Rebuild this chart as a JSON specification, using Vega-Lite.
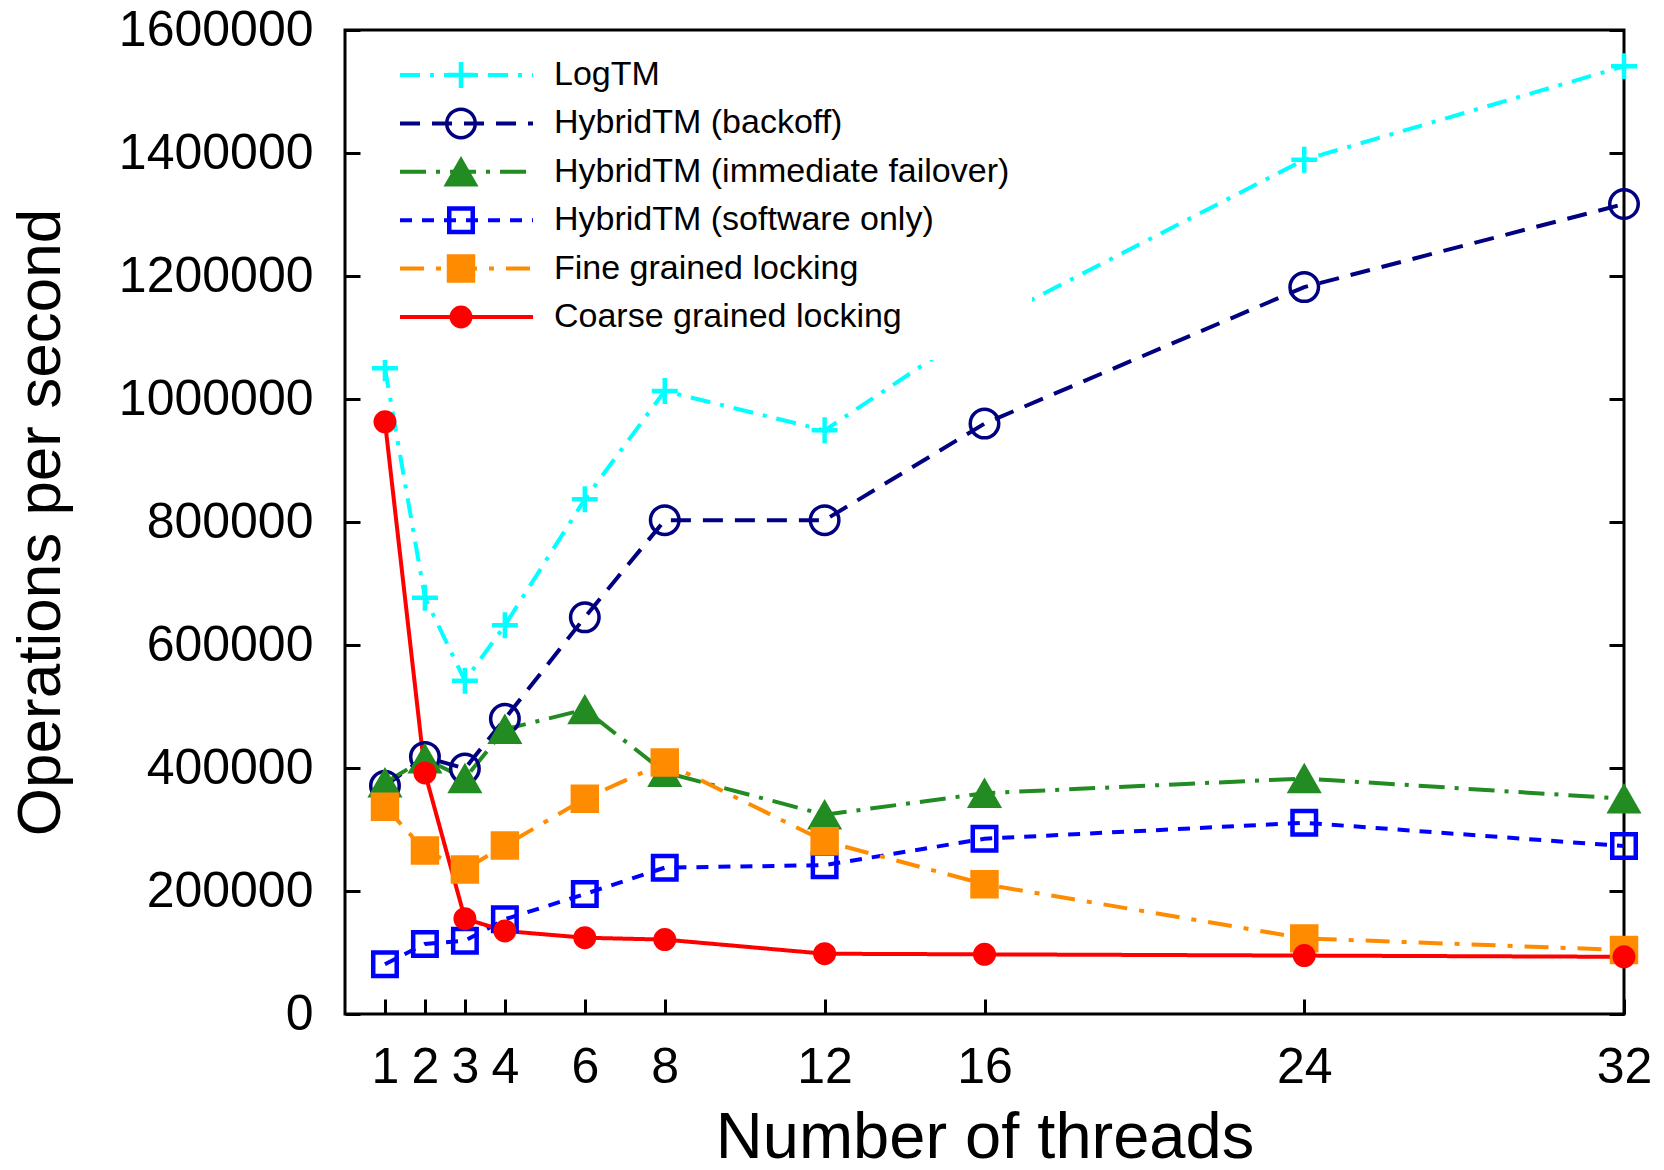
{
  "$schema": "https://vega.github.io/schema/vega-lite/v6.json",
  "width": 1279,
  "height": 984,
  "autosize": {"type": "none"},
  "padding": {"left": 345, "top": 30, "right": 40, "bottom": 156},
  "background": "white",
  "config": {
    "view": {"stroke": "black", "strokeWidth": 3},
    "font": "Liberation Sans"
  },
  "data": {
    "values": [
      {"t": 1, "s": "LogTM", "v": 1050000}, {"t": 2, "s": "LogTM", "v": 677000}, {"t": 3, "s": "LogTM", "v": 542000}, {"t": 4, "s": "LogTM", "v": 632000}, {"t": 6, "s": "LogTM", "v": 837000}, {"t": 8, "s": "LogTM", "v": 1013000}, {"t": 12, "s": "LogTM", "v": 949000}, {"t": 16, "s": "LogTM", "v": 1122000}, {"t": 24, "s": "LogTM", "v": 1389000}, {"t": 32, "s": "LogTM", "v": 1541000},
      {"t": 1, "s": "HybridTM (backoff)", "v": 371000}, {"t": 2, "s": "HybridTM (backoff)", "v": 418000}, {"t": 3, "s": "HybridTM (backoff)", "v": 399000}, {"t": 4, "s": "HybridTM (backoff)", "v": 480000}, {"t": 6, "s": "HybridTM (backoff)", "v": 645000}, {"t": 8, "s": "HybridTM (backoff)", "v": 803000}, {"t": 12, "s": "HybridTM (backoff)", "v": 803000}, {"t": 16, "s": "HybridTM (backoff)", "v": 960000}, {"t": 24, "s": "HybridTM (backoff)", "v": 1182000}, {"t": 32, "s": "HybridTM (backoff)", "v": 1317000},
      {"t": 1, "s": "HybridTM (immediate failover)", "v": 376000}, {"t": 2, "s": "HybridTM (immediate failover)", "v": 415000}, {"t": 3, "s": "HybridTM (immediate failover)", "v": 383000}, {"t": 4, "s": "HybridTM (immediate failover)", "v": 463000}, {"t": 6, "s": "HybridTM (immediate failover)", "v": 495000}, {"t": 8, "s": "HybridTM (immediate failover)", "v": 393000}, {"t": 12, "s": "HybridTM (immediate failover)", "v": 324000}, {"t": 16, "s": "HybridTM (immediate failover)", "v": 359000}, {"t": 24, "s": "HybridTM (immediate failover)", "v": 383000}, {"t": 32, "s": "HybridTM (immediate failover)", "v": 350000},
      {"t": 1, "s": "HybridTM (software only)", "v": 81000}, {"t": 2, "s": "HybridTM (software only)", "v": 114000}, {"t": 3, "s": "HybridTM (software only)", "v": 119000}, {"t": 4, "s": "HybridTM (software only)", "v": 154000}, {"t": 6, "s": "HybridTM (software only)", "v": 195000}, {"t": 8, "s": "HybridTM (software only)", "v": 238000}, {"t": 12, "s": "HybridTM (software only)", "v": 242000}, {"t": 16, "s": "HybridTM (software only)", "v": 285000}, {"t": 24, "s": "HybridTM (software only)", "v": 311000}, {"t": 32, "s": "HybridTM (software only)", "v": 273000},
      {"t": 1, "s": "Fine grained locking", "v": 337000}, {"t": 2, "s": "Fine grained locking", "v": 266000}, {"t": 3, "s": "Fine grained locking", "v": 235000}, {"t": 4, "s": "Fine grained locking", "v": 274000}, {"t": 6, "s": "Fine grained locking", "v": 350000}, {"t": 8, "s": "Fine grained locking", "v": 409000}, {"t": 12, "s": "Fine grained locking", "v": 281000}, {"t": 16, "s": "Fine grained locking", "v": 211000}, {"t": 24, "s": "Fine grained locking", "v": 123000}, {"t": 32, "s": "Fine grained locking", "v": 104000},
      {"t": 1, "s": "Coarse grained locking", "v": 963000}, {"t": 2, "s": "Coarse grained locking", "v": 392000}, {"t": 3, "s": "Coarse grained locking", "v": 155000}, {"t": 4, "s": "Coarse grained locking", "v": 135000}, {"t": 6, "s": "Coarse grained locking", "v": 124000}, {"t": 8, "s": "Coarse grained locking", "v": 121000}, {"t": 12, "s": "Coarse grained locking", "v": 98000}, {"t": 16, "s": "Coarse grained locking", "v": 97000}, {"t": 24, "s": "Coarse grained locking", "v": 95000}, {"t": 32, "s": "Coarse grained locking", "v": 93000}
    ]
  },
  "layer": [
    {
      "mark": {"type": "line", "strokeWidth": 4},
      "encoding": {
        "x": {
          "field": "t", "type": "quantitative",
          "scale": {"domain": [0, 32], "nice": false, "zero": false},
          "axis": {
            "values": [1, 2, 3, 4, 6, 8, 12, 16, 24, 32],
            "title": "Number of threads",
            "domain": false, "grid": false,
            "tickSize": -15, "tickWidth": 3, "tickColor": "black",
            "labelFont": "Liberation Sans", "labelFontSize": 50, "labelColor": "black",
            "labelPadding": 43, "labelFlush": false, "labelOverlap": false, "labelLimit": 0,
            "titleFont": "Liberation Sans", "titleFontSize": 65, "titleFontWeight": "normal", "titleColor": "black",
            "titleBaseline": "alphabetic", "titleY": 143
          }
        },
        "y": {
          "field": "v", "type": "quantitative",
          "scale": {"domain": [0, 1600000], "nice": false},
          "axis": {
            "values": [0, 200000, 400000, 600000, 800000, 1000000, 1200000, 1400000, 1600000],
            "format": "d",
            "title": "Operations per second",
            "domain": false, "grid": false,
            "tickSize": -15, "tickWidth": 3, "tickColor": "black",
            "labelFont": "Liberation Sans", "labelFontSize": 50, "labelColor": "black",
            "labelPadding": 47, "labelFlush": false, "labelOverlap": false, "labelLimit": 0,
            "titleFont": "Liberation Sans", "titleFontSize": 62, "titleFontWeight": "normal", "titleColor": "black",
            "titleAngle": -90, "titleBaseline": "alphabetic", "titleAlign": "center",
            "titleX": -286, "titleY": 492
          }
        },
        "color": {
          "field": "s", "type": "nominal",
          "scale": {
            "domain": ["LogTM", "HybridTM (backoff)", "HybridTM (immediate failover)", "HybridTM (software only)", "Fine grained locking", "Coarse grained locking"],
            "range": ["#00FFFF", "#000080", "#228B22", "#0000FF", "#FF8C00", "#FF0000"]
          }
        },
        "strokeDash": {
          "field": "s", "type": "nominal",
          "scale": {
            "domain": ["LogTM", "HybridTM (backoff)", "HybridTM (immediate failover)", "HybridTM (software only)", "Fine grained locking", "Coarse grained locking"],
            "range": [[20, 10, 4, 10], [20, 12], [26, 10, 4, 10], [12, 10], [24, 12, 5, 12], [1, 0]]
          },
          "legend": {
            "orient": "none", "legendX": 31, "legendY": 2,
            "padding": 22, "fillColor": "white", "zindex": 1,
            "title": null,
            "symbolType": "stroke", "symbolSize": 17689, "symbolStrokeWidth": 4,
            "clipHeight": 42,
            "labelFont": "Liberation Sans", "labelFontSize": 34, "labelColor": "black",
            "labelOffset": 19, "labelLimit": 0, "rowPadding": 6.4
          }
        }
      }
    },
    {
      "mark": {"type": "point", "opacity": 1},
      "encoding": {
        "x": {"field": "t", "type": "quantitative"},
        "y": {"field": "v", "type": "quantitative", "scale": {"domain": [0, 1600000], "nice": false}, "axis": null},
        "shape": {
          "field": "s", "type": "nominal", "sort": null,
          "scale": {
            "range": ["M-1,0H1M0,-1V1", "circle", "triangle-up", "square", "square", "circle"]
          },
          "legend": {
            "orient": "top-left", "offset": 2, "padding": 22, "zindex": 2,
            "title": null,
            "clipHeight": 42,
            "labelExpr": "''",
            "labelFont": "Liberation Sans", "labelFontSize": 34, "labelOpacity": 0,
            "labelOffset": 19, "labelLimit": 0, "rowPadding": 6.4, "symbolOffset": 75
          }
        },
        "stroke": {
          "field": "s", "type": "nominal", "sort": null,
          "scale": {"range": ["#00FFFF", "#000080", "#228B22", "#0000FF", "#FF8C00", "#FF0000"]}
        },
        "fill": {
          "field": "s", "type": "nominal", "sort": null,
          "scale": {"range": ["transparent", "transparent", "#228B22", "transparent", "#FF8C00", "#FF0000"]}
        },
        "size": {
          "field": "s", "type": "nominal", "sort": null,
          "scale": {"type": "ordinal", "range": [676, 812, 1000, 552, 700, 440]}
        },
        "strokeWidth": {
          "field": "s", "type": "nominal", "sort": null,
          "scale": {"type": "ordinal", "range": [4.5, 3.5, 2, 4.5, 2, 2]}
        }
      }
    },
    {
      "mark": {"type": "point", "opacity": 0},
      "encoding": {
        "x": {"field": "t", "type": "quantitative"},
        "y": {
          "field": "v", "type": "quantitative",
          "scale": {"domain": [0, 1600000], "nice": false},
          "axis": {
            "orient": "right",
            "values": [0, 200000, 400000, 600000, 800000, 1000000, 1200000, 1400000, 1600000],
            "labels": false, "title": null, "domain": false, "grid": false,
            "tickSize": -15, "tickWidth": 3, "tickColor": "black"
          }
        }
      }
    }
  ],
  "resolve": {"scale": {"y": "independent"}}
}
